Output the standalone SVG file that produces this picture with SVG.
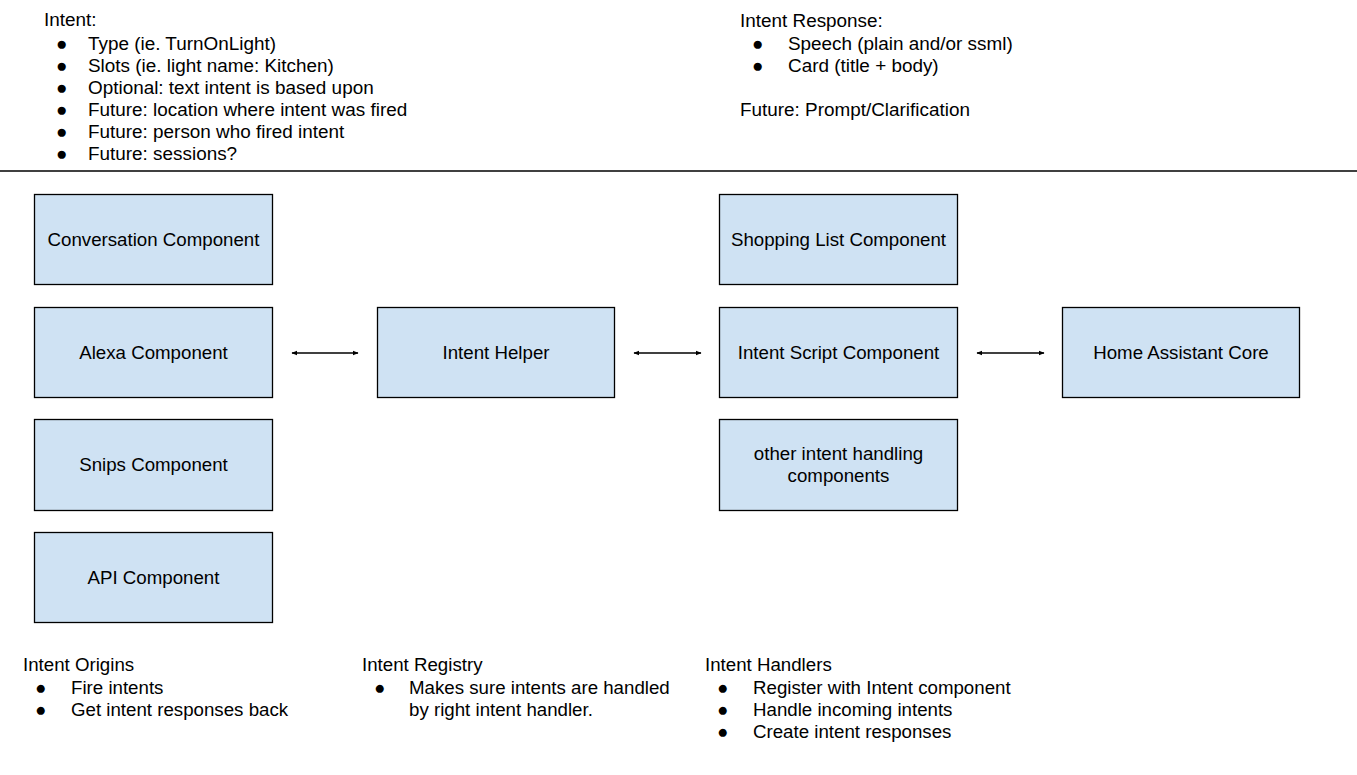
<svg xmlns="http://www.w3.org/2000/svg" width="1357" height="775" viewBox="0 0 1357 775">
<defs>
<marker id="ah" viewBox="0 0 10 10" refX="9" refY="5" markerWidth="4.5" markerHeight="4.5" orient="auto-start-reverse">
<path d="M0,1 L10,5 L0,9 Z" fill="#000"/>
</marker>
</defs>
<style>
text{font-family:"Liberation Sans",Arial,sans-serif;font-size:18.7px;fill:#000}
.top{font-size:18.9px}
.box{fill:#cfe2f3;stroke:#000;stroke-width:1.3}
.c{text-anchor:middle}
.ln{stroke:#000;stroke-width:1.3;fill:none}
</style>
<rect width="1357" height="775" fill="#fff"/>
<g id="intent-notes" class="top">
<text class="top" x="44" y="26">Intent:</text>
<text class="top" x="56" y="50">●</text><text class="top" x="88" y="50">Type (ie. TurnOnLight)</text>
<text class="top" x="56" y="72">●</text><text class="top" x="88" y="72">Slots (ie. light name: Kitchen)</text>
<text class="top" x="56" y="94">●</text><text class="top" x="88" y="94">Optional: text intent is based upon</text>
<text class="top" x="56" y="116">●</text><text class="top" x="88" y="116">Future: location where intent was fired</text>
<text class="top" x="56" y="138">●</text><text class="top" x="88" y="138">Future: person who fired intent</text>
<text class="top" x="56" y="160">●</text><text class="top" x="88" y="160">Future: sessions?</text>
</g>
<g id="response-notes">
<text class="top" x="740" y="27">Intent Response:</text>
<text class="top" x="752" y="50">●</text><text class="top" x="788" y="50">Speech (plain and/or ssml)</text>
<text class="top" x="752" y="72">●</text><text class="top" x="788" y="72">Card (title + body)</text>
<text class="top" x="740" y="116">Future: Prompt/Clarification</text>
</g>
<line class="ln" x1="0" y1="171" x2="1357" y2="171"/>
<g id="conversation"><rect class="box" x="34.5" y="194.5" width="238" height="90"/><text class="c" x="153.5" y="246">Conversation Component</text></g>
<g id="alexa"><rect class="box" x="34.5" y="307.5" width="238" height="90"/><text class="c" x="153.5" y="359">Alexa Component</text></g>
<g id="snips"><rect class="box" x="34.5" y="419.5" width="238" height="91"/><text class="c" x="153.5" y="471">Snips Component</text></g>
<g id="api"><rect class="box" x="34.5" y="532.5" width="238" height="90"/><text class="c" x="153.5" y="584">API Component</text></g>
<g id="intent-helper"><rect class="box" x="377.5" y="307.5" width="237" height="90"/><text class="c" x="496" y="359">Intent Helper</text></g>
<g id="shopping"><rect class="box" x="719.5" y="194.5" width="238" height="90"/><text class="c" x="838.5" y="246">Shopping List Component</text></g>
<g id="intent-script"><rect class="box" x="719.5" y="307.5" width="238" height="90"/><text class="c" x="838.5" y="359">Intent Script Component</text></g>
<g id="other-handlers"><rect class="box" x="719.5" y="419.5" width="238" height="91"/><text class="c" x="838.5" y="460">other intent handling</text><text class="c" x="838.5" y="482">components</text></g>
<g id="ha-core"><rect class="box" x="1062.5" y="307.5" width="237" height="90"/><text class="c" x="1181" y="359">Home Assistant Core</text></g>
<g id="connectors">
<line class="ln" x1="292" y1="353" x2="358" y2="353" marker-start="url(#ah)" marker-end="url(#ah)"/>
<line class="ln" x1="634" y1="353" x2="701" y2="353" marker-start="url(#ah)" marker-end="url(#ah)"/>
<line class="ln" x1="977" y1="353" x2="1044" y2="353" marker-start="url(#ah)" marker-end="url(#ah)"/>
</g>
<g id="origins-notes">
<text x="23" y="671">Intent Origins</text>
<text x="35" y="694">●</text><text x="71" y="694">Fire intents</text>
<text x="35" y="716">●</text><text x="71" y="716">Get intent responses back</text>
</g>
<g id="registry-notes">
<text x="362" y="671">Intent Registry</text>
<text x="374" y="694">●</text><text x="409" y="694">Makes sure intents are handled</text>
<text x="409" y="716">by right intent handler.</text>
</g>
<g id="handlers-notes">
<text x="705" y="671">Intent Handlers</text>
<text x="717" y="694">●</text><text x="753" y="694">Register with Intent component</text>
<text x="717" y="716">●</text><text x="753" y="716">Handle incoming intents</text>
<text x="717" y="738">●</text><text x="753" y="738">Create intent responses</text>
</g>
</svg>
